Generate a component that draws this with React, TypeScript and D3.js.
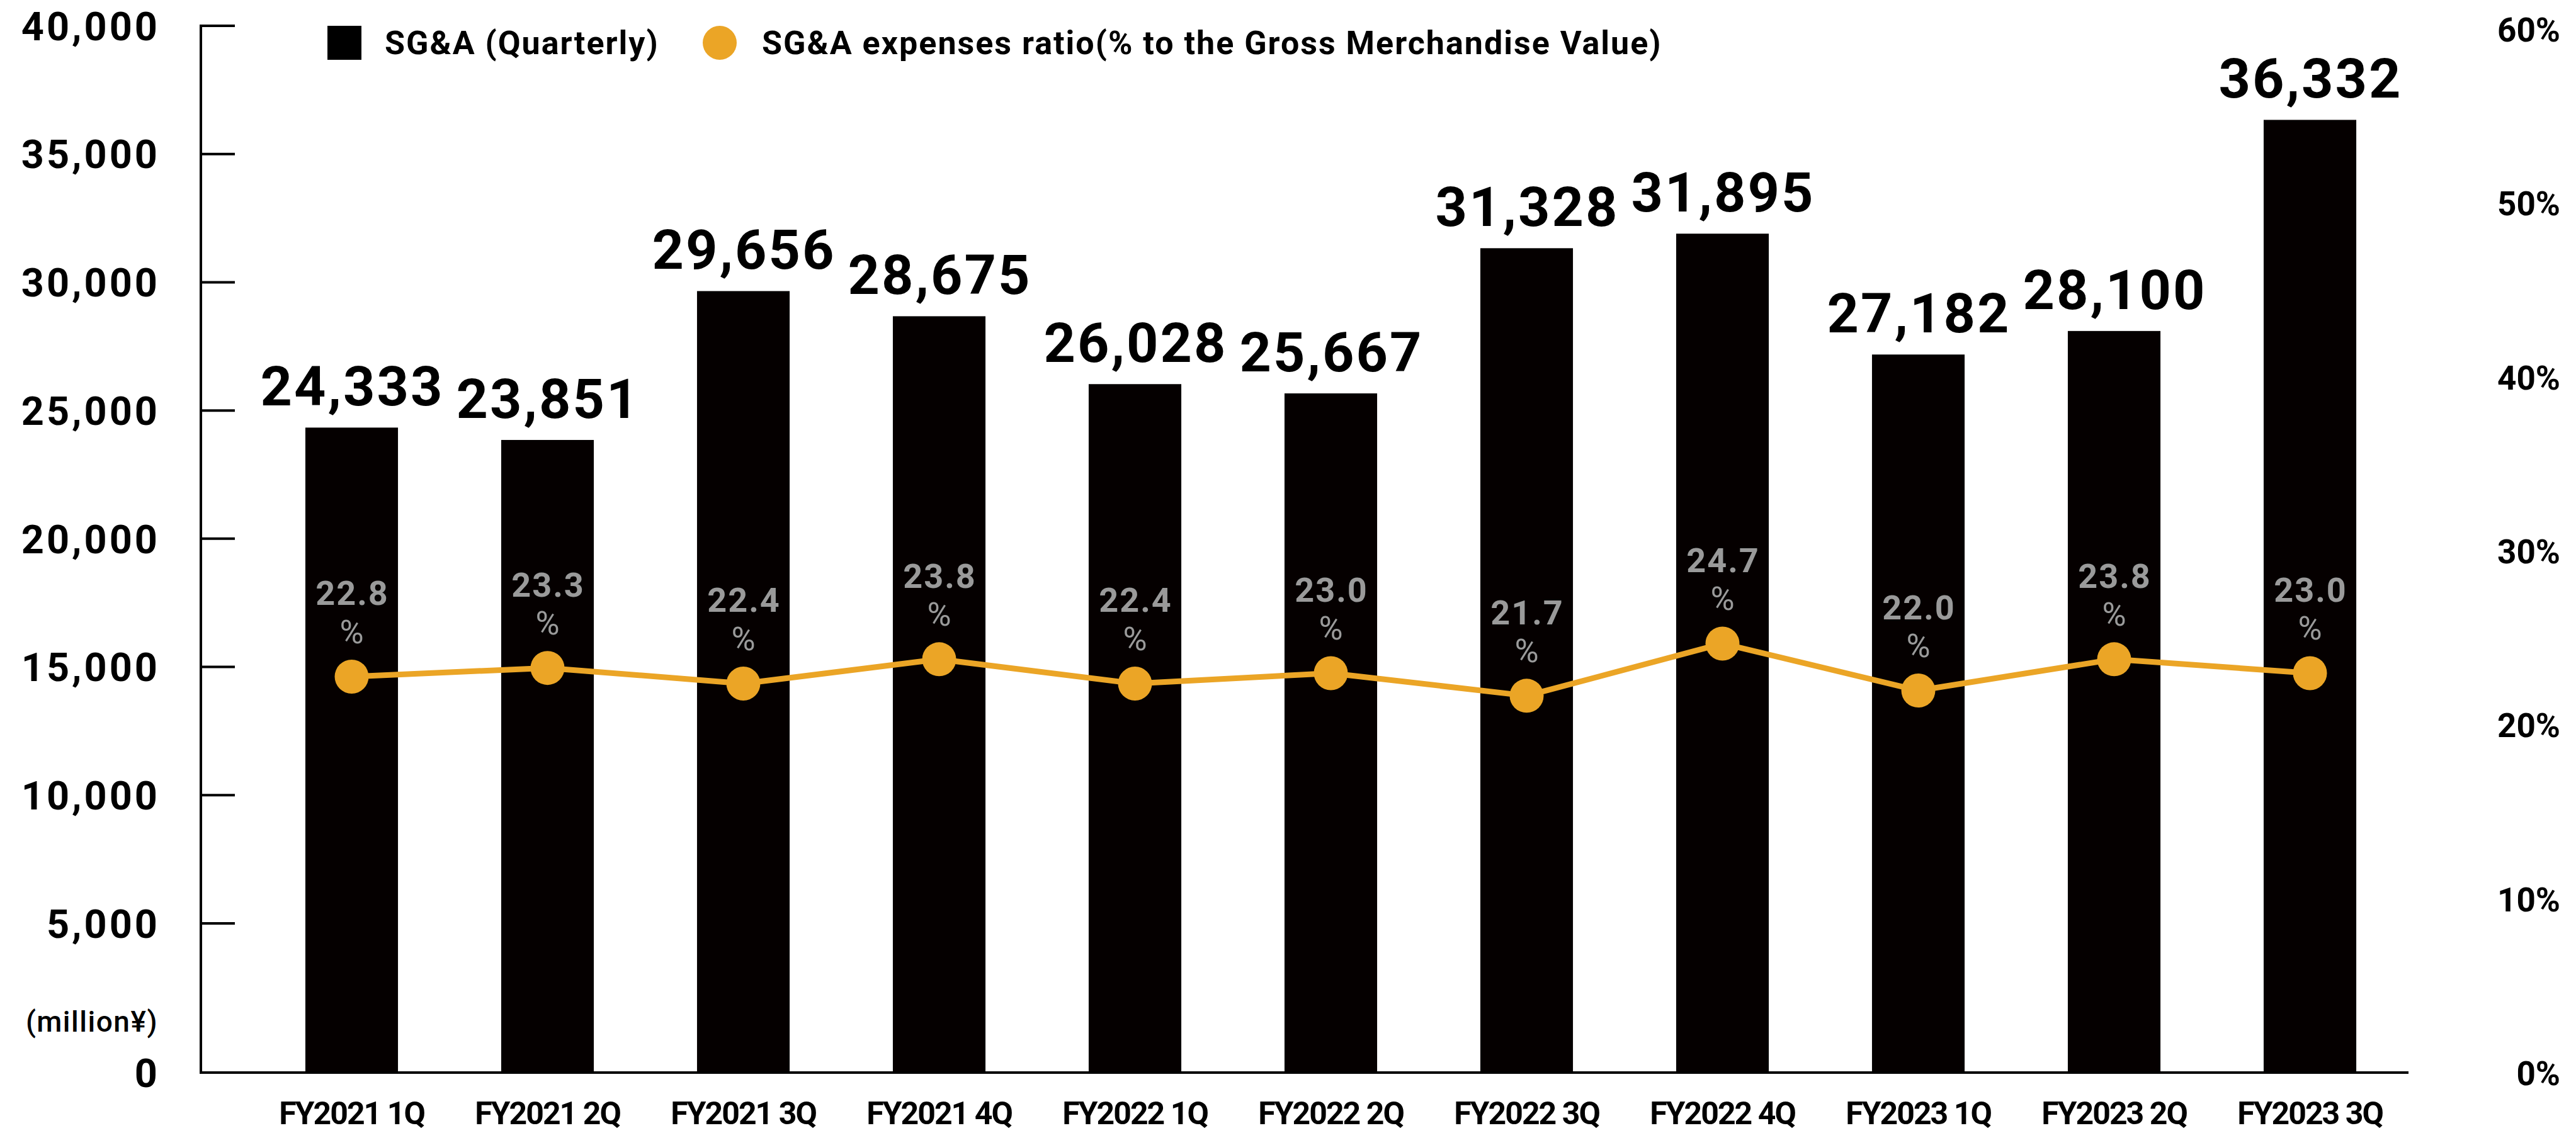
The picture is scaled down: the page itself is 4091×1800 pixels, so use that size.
import React from 'react';
import * as d3 from 'd3';

const categories = ['FY2021 1Q', 'FY2021 2Q', 'FY2021 3Q', 'FY2021 4Q', 'FY2022 1Q', 'FY2022 2Q', 'FY2022 3Q', 'FY2022 4Q', 'FY2023 1Q', 'FY2023 2Q', 'FY2023 3Q'];
const sgaValues = [24333, 23851, 29656, 28675, 26028, 25667, 31328, 31895, 27182, 28100, 36332];
const ratioValues = [22.8, 23.3, 22.4, 23.8, 22.4, 23.0, 21.7, 24.7, 22.0, 23.8, 23.0];
const leftTicks = [0, 5000, 10000, 15000, 20000, 25000, 30000, 35000, 40000];
const rightTicks = [0, 10, 20, 30, 40, 50, 60];
const legendLabels = ['SG&A (Quarterly)', 'SG&A expenses ratio(% to the Gross Merchandise Value)'];
const unitLabel = '(million¥)';

const W = 4091;
const H = 1800;
const FONT = 'Roboto, "Open Sans", sans-serif';
const ORANGE = '#EBA526';
const BAR = '#050000';
const GREY = '#9a9a9a';

export default function App() {
  const axisX = 319;
  const baseY = 1704;
  const yLeft = d3.scaleLinear().domain([0, 5000, 40000]).range([baseY, 1467, 41]);
  const yRight = d3.scaleLinear().domain([0, 60]).range([1705, 47]);
  const x = d3.scaleBand<string>().domain(categories).range([403, 3824]).paddingInner(0.527).paddingOuter(0.2635);
  const bw = x.bandwidth();
  const cx = (c: string) => (x(c) as number) + bw / 2;
  const fmt = d3.format(',');

  const lineGen = d3.line<number>()
    .x((_, i) => cx(categories[i]))
    .y((d) => yRight(d));

  return (
    <div style={{ position: 'absolute', left: 0, top: 0 }}>
      <svg width={W} height={H} viewBox={`0 0 ${W} ${H}`} style={{ display: 'block', background: '#fff' }}>
        <rect x={0} y={0} width={W} height={H} fill="#fff" />

        {/* bars */}
        {sgaValues.map((v, i) => (
          <rect key={'b' + i} x={x(categories[i]) as number} y={yLeft(v)} width={bw} height={baseY - yLeft(v)} fill={BAR} />
        ))}

        {/* value labels */}
        {sgaValues.map((v, i) => (
          <text key={'v' + i} x={cx(categories[i]) + 1} y={yLeft(v) - 35} textAnchor="middle"
            fontFamily={FONT} fontWeight={700} fontSize={88} letterSpacing={3} fill="#000">
            {fmt(v)}
          </text>
        ))}

        {/* left axis */}
        <line x1={axisX} x2={axisX} y1={yLeft(40000) - 2} y2={baseY + 2} stroke="#000" strokeWidth={4} />
        {leftTicks.map((t) => (
          <g key={'lt' + t}>
            <line x1={axisX} x2={axisX + 54} y1={yLeft(t)} y2={yLeft(t)} stroke="#000" strokeWidth={4} />
            <text x={254} y={yLeft(t)} dy="0.36em" textAnchor="end" fontFamily={FONT} fontWeight={700}
              fontSize={63} letterSpacing={4} fill="#000">
              {fmt(t)}
            </text>
          </g>
        ))}
        <text x={251} y={1623} dy="0.35em" textAnchor="end" fontFamily={FONT} fontWeight={500} fontSize={46}
          letterSpacing={1.5} fill="#000">
          {unitLabel}
        </text>

        {/* bottom axis */}
        <line x1={axisX - 2} x2={3825} y1={baseY} y2={baseY} stroke="#000" strokeWidth={4} />
        {categories.map((c) => (
          <text key={'xl' + c} x={cx(c)} y={1786} textAnchor="middle" fontFamily={FONT} fontWeight={700}
            fontSize={50} letterSpacing={-2} fill="#000">
            {c}
          </text>
        ))}

        {/* right axis labels */}
        {rightTicks.map((t) => (
          <text key={'rt' + t} x={4066} y={yRight(t)} dy="0.36em" textAnchor="end" fontFamily={FONT}
            fontWeight={700} fontSize={53} fill="#000">
            {t + '%'}
          </text>
        ))}

        {/* ratio line */}
        <path d={lineGen(ratioValues) as string} fill="none" stroke={ORANGE} strokeWidth={9} strokeLinejoin="round" />
        {ratioValues.map((v, i) => (
          <circle key={'c' + i} cx={cx(categories[i])} cy={yRight(v)} r={27} fill={ORANGE} />
        ))}
        {ratioValues.map((v, i) => (
          <g key={'p' + i}>
            <text x={cx(categories[i]) + 1} y={yRight(v) - 133} dy="0.36em" textAnchor="middle" fontFamily={FONT}
              fontWeight={700} fontSize={54} letterSpacing={2} fill={GREY}>
              {v.toFixed(1)}
            </text>
            <text x={cx(categories[i])} y={yRight(v) - 72} dy="0.36em" textAnchor="middle" fontFamily={FONT}
              fontWeight={400} fontSize={52} fill={GREY}>
              %
            </text>
          </g>
        ))}

        {/* legend */}
        <rect x={520} y={41} width={54} height={54} fill="#000" />
        <text x={611} y={86} fontFamily={FONT} fontWeight={700} fontSize={52} letterSpacing={2} fill="#000">{legendLabels[0]}</text>
        <circle cx={1143} cy={68} r={27} fill={ORANGE} />
        <text x={1210} y={86} fontFamily={FONT} fontWeight={700} fontSize={52} letterSpacing={2} fill="#000">{legendLabels[1]}</text>
      </svg>
    </div>
  );
}
